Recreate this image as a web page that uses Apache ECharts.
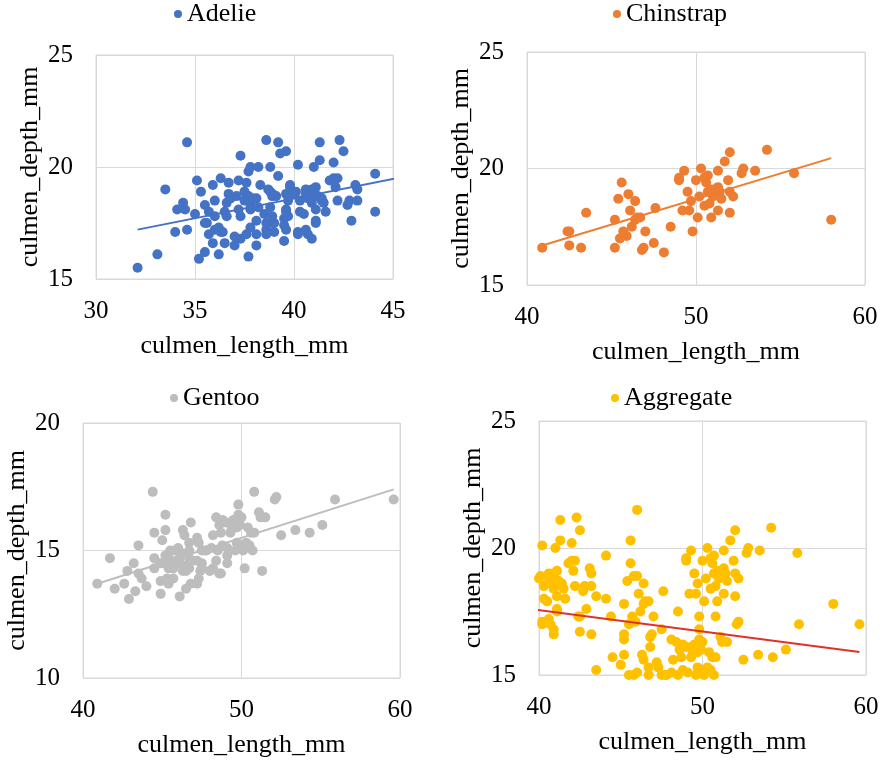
<!DOCTYPE html>
<html><head><meta charset="utf-8">
<script src="https://cdn.jsdelivr.net/npm/echarts@6/dist/echarts.min.js"></script>
<style>html,body{margin:0;padding:0;background:#fff}#c{width:883px;height:761px}</style>
</head><body><div id="c"></div><script>
// culmen_length_mm, culmen_depth_mm pairs
const adelie = [[32.1,15.5],[33.1,16.1],[33.5,19.0],[34.6,21.1],[34.0,17.1],[34.6,17.2],[34.1,18.1],[34.4,18.4],[34.5,18.1],[35.0,17.9],[35.1,19.4],[35.3,18.9],[35.2,15.9],[35.5,16.2],[35.5,17.5],[35.6,17.5],[35.7,18.0],[35.7,17.0],[35.9,19.2],[36.0,18.5],[36.0,17.8],[35.9,16.6],[36.2,16.1],[36.2,17.3],[36.3,19.5],[36.4,17.1],[36.3,17.1],[36.5,16.6],[36.5,18.0],[36.6,18.4],[36.6,17.8],[36.7,18.8],[36.7,19.3],[36.8,18.6],[37.0,16.9],[37.0,16.5],[37.2,19.4],[37.2,18.1],[37.3,17.8],[37.3,20.5],[37.3,16.8],[37.5,18.5],[37.5,18.9],[37.6,19.3],[37.6,17.0],[37.7,16.0],[37.7,19.8],[37.8,20.0],[37.8,17.3],[37.8,18.3],[37.9,18.6],[37.8,18.1],[38.1,18.6],[38.1,17.6],[38.1,17.0],[38.1,16.5],[38.2,20.0],[38.3,19.2],[38.5,17.9],[38.6,21.2],[38.6,17.2],[38.6,17.0],[38.7,19.0],[38.8,20.0],[38.9,17.8],[38.9,17.5],[38.9,18.8],[39.0,17.1],[39.0,17.5],[39.1,18.7],[39.2,21.1],[39.2,19.6],[39.3,20.6],[39.6,20.7],[39.5,16.7],[39.5,17.4],[39.5,17.7],[39.6,17.2],[39.6,18.8],[39.6,18.1],[39.7,18.5],[39.7,17.8],[39.8,19.1],[40.1,18.9],[40.2,17.0],[40.2,17.1],[40.2,20.1],[40.3,18.5],[40.3,18.0],[40.5,17.9],[40.6,19.0],[40.6,17.2],[40.6,18.8],[40.7,17.0],[40.9,16.8],[40.7,18.6],[40.9,18.4],[41.0,20.0],[41.1,19.1],[41.1,18.7],[41.1,18.1],[41.1,17.6],[41.1,17.5],[41.3,21.1],[41.3,20.3],[41.4,18.6],[41.5,18.4],[41.6,18.0],[41.8,19.4],[42.0,20.2],[42.0,19.5],[42.1,19.1],[42.2,19.5],[42.2,18.5],[42.3,21.2],[42.5,20.7],[42.7,18.3],[42.8,18.5],[42.9,17.6],[43.1,19.2],[43.2,19.0],[43.2,18.5],[44.1,19.7],[44.1,18.0],[38.8,18.9],[40.8,18.8],[41.2,18.7],[41.4,18.5],[40.0,18.8],[38.2,18.2],[37.7,18.7],[37.1,18.7],[38.9,18.7],[45.6,20.3],[46.0,21.5],[45.8,18.9],[38.8,18.2],[38.6,17.5],[37.7,18.5],[40.9,19.0],[36.0,17.2],[35.5,18.3],[39.8,19.2],[39.6,18.0]];
const chinstrap = [[40.9,16.6],[42.5,17.3],[42.4,17.3],[42.5,16.7],[43.2,16.6],[43.5,18.1],[45.2,17.8],[45.2,16.6],[45.4,18.7],[45.6,19.4],[45.5,17.0],[45.7,17.3],[45.9,17.1],[46.0,18.9],[46.1,18.2],[46.2,17.5],[46.4,18.6],[46.4,17.8],[46.5,17.9],[46.7,17.9],[46.8,16.5],[46.9,16.6],[47.0,17.3],[47.5,16.8],[47.6,18.3],[48.1,16.4],[48.5,17.5],[49.0,19.5],[49.0,19.6],[49.3,19.9],[49.2,18.2],[49.5,19.0],[49.6,18.2],[49.7,18.6],[49.8,17.3],[50.0,19.5],[50.1,17.9],[50.2,18.8],[50.3,20.0],[50.5,18.4],[50.6,19.4],[50.5,19.6],[50.7,19.7],[50.7,19.0],[50.8,18.5],[50.9,17.9],[50.9,19.1],[51.0,18.8],[51.3,19.2],[51.3,19.9],[51.3,18.2],[51.4,19.0],[51.5,18.7],[51.7,20.3],[51.9,19.5],[52.0,20.7],[52.0,18.1],[52.0,19.0],[52.2,18.8],[52.7,19.8],[52.8,20.0],[53.5,19.9],[54.2,20.8],[55.8,19.8],[58.0,17.8],[51.1,19.1]];
const gentoo = [[40.9,13.7],[41.7,14.7],[42.0,13.5],[42.6,13.7],[42.9,13.1],[42.8,14.2],[43.2,14.5],[43.3,13.4],[43.5,15.2],[43.5,14.1],[43.7,13.9],[44.0,13.6],[44.4,17.3],[44.5,15.7],[44.5,14.7],[44.5,14.3],[44.9,13.3],[44.9,13.8],[45.0,15.4],[45.1,14.5],[45.2,16.4],[45.2,15.8],[45.2,14.8],[45.4,13.7],[45.5,15.0],[45.6,14.6],[45.7,13.9],[45.9,14.5],[46.1,13.2],[46.0,15.1],[46.2,14.9],[46.3,15.8],[46.4,15.6],[46.5,13.5],[46.4,14.4],[46.7,14.7],[46.8,16.1],[46.7,15.3],[46.7,14.3],[46.9,14.6],[47.2,15.5],[47.3,15.3],[47.2,13.7],[47.3,13.9],[47.4,14.2],[47.5,15.0],[47.5,14.5],[47.7,15.0],[48.1,15.1],[48.2,15.6],[48.2,14.3],[48.4,16.3],[48.4,14.6],[48.5,15.0],[48.6,14.1],[48.7,14.1],[48.7,15.7],[48.8,16.2],[49.0,16.1],[49.1,15.1],[49.1,14.8],[49.1,14.5],[49.3,15.7],[49.4,15.9],[49.5,16.2],[49.6,15.0],[49.7,15.9],[49.8,16.8],[49.9,16.0],[50.0,16.3],[50.1,15.2],[50.1,15.0],[50.2,14.3],[50.3,15.3],[50.4,15.9],[50.6,15.7],[50.7,15.0],[50.8,17.3],[50.8,15.7],[51.1,16.5],[51.2,16.3],[51.3,14.2],[51.5,16.3],[52.1,17.0],[52.2,17.1],[52.5,15.6],[53.4,15.8],[54.3,15.7],[55.1,16.0],[55.9,17.0],[59.6,17.0],[45.3,14.6],[45.8,15.0],[46.1,14.7],[46.3,14.4],[46.5,14.2],[47.2,14.6],[47.8,15.0],[48.0,14.2],[48.6,16.0],[49.7,15.3],[50.5,15.2],[48.8,15.2],[44.9,14.5],[45.4,14.7],[46.7,15.0],[45.4,14.3],[45.7,14.3],[46.3,14.2],[47.5,14.3],[46.8,13.7],[45.3,13.9],[49.3,16.1],[49.8,16.4]];
const aggregate = adelie.concat(chinstrap, gentoo);

const seriesNames = ['Adelie', 'Chinstrap', 'Gentoo', 'Aggregate'];
const seriesData = [adelie, chinstrap, gentoo, aggregate];
const xTicks = [[30, 45, 5], [40, 60, 10], [40, 60, 10], [40, 60, 10]];
const yTicks = [[15, 25, 5], [15, 25, 5], [10, 20, 5], [15, 25, 5]];
const xTitle = 'culmen_length_mm';
const yTitle = 'culmen_depth_mm';

// least-squares linear trend line through the data range
function trend(pts) {
  let n = pts.length, sx = 0, sy = 0, sxx = 0, sxy = 0, mn = Infinity, mx = -Infinity;
  pts.forEach(p => { sx += p[0]; sy += p[1]; sxx += p[0]*p[0]; sxy += p[0]*p[1]; mn = Math.min(mn, p[0]); mx = Math.max(mx, p[0]); });
  const b = (n*sxy - sx*sy) / (n*sxx - sx*sx);
  const a = (sy - b*sx) / n;
  return [[mn, a + b*mn], [mx, a + b*mx]];
}

const FONT = 'Liberation Serif';
const colors = ['#4472C4', '#ED7D31', '#BDBDBD', '#FFC000'];
const lineColors = ['#4472C4', '#ED7D31', '#BDBDBD', '#E0302A'];
const grids = [
  {left: 96, top: 55, width: 297, height: 224},
  {left: 527, top: 52, width: 338, height: 233},
  {left: 83, top: 423, width: 317, height: 255},
  {left: 539, top: 421, width: 327, height: 254}
];
const legendPos = [{left: 174, top: 1}, {left: 613, top: 1}, {left: 170, top: 385}, {left: 611, top: 385}];

const option = {
  animation: false,
  backgroundColor: '#fff',
  textStyle: {fontFamily: FONT},
  grid: grids.map(g => Object.assign({show: true, borderColor: '#D9D9D9', borderWidth: 1}, g)),
  legend: seriesNames.map((n, i) => ({
    data: [n], left: legendPos[i].left, top: legendPos[i].top, padding: 0,
    icon: 'circle', itemWidth: 8, itemHeight: 8, itemGap: 6, selectedMode: false,
    textStyle: {fontFamily: FONT, fontSize: 26, color: '#000'}
  })),
  xAxis: seriesNames.map((n, i) => ({
    gridIndex: i, type: 'value', min: xTicks[i][0], max: xTicks[i][1], interval: xTicks[i][2],
    axisLine: {show: false}, axisTick: {show: false},
    splitLine: {show: true, lineStyle: {color: '#D9D9D9', width: 1}},
    axisLabel: {fontFamily: FONT, fontSize: 25, color: '#000', margin: 20},
    name: xTitle, nameLocation: 'middle', nameGap: 54,
    nameTextStyle: {fontFamily: FONT, fontSize: 26, color: '#000'}
  })),
  yAxis: seriesNames.map((n, i) => ({
    gridIndex: i, type: 'value', min: yTicks[i][0], max: yTicks[i][1], interval: yTicks[i][2],
    axisLine: {show: false}, axisTick: {show: false},
    splitLine: {show: true, lineStyle: {color: '#D9D9D9', width: 1}},
    axisLabel: {fontFamily: FONT, fontSize: 25, color: '#000', margin: 23},
    name: yTitle, nameLocation: 'middle', nameGap: 53,
    nameTextStyle: {fontFamily: FONT, fontSize: 26, color: '#000'}
  })),
  series: []
};
seriesNames.forEach((n, i) => {
  option.series.push({
    name: n, type: 'scatter', xAxisIndex: i, yAxisIndex: i, data: seriesData[i],
    symbol: 'circle', symbolSize: 10, clip: true, itemStyle: {color: colors[i], opacity: 1}
  });
});
seriesNames.forEach((n, i) => {
  option.series.push({
    name: n + ' trend', type: 'line', xAxisIndex: i, yAxisIndex: i, data: trend(seriesData[i]),
    showSymbol: false, symbol: 'none', clip: true, silent: true,
    lineStyle: {color: lineColors[i], width: 2}, z: 3
  });
});
const chart = echarts.init(document.getElementById('c'), null, {renderer: 'canvas'});
chart.setOption(option);
</script></body></html>
